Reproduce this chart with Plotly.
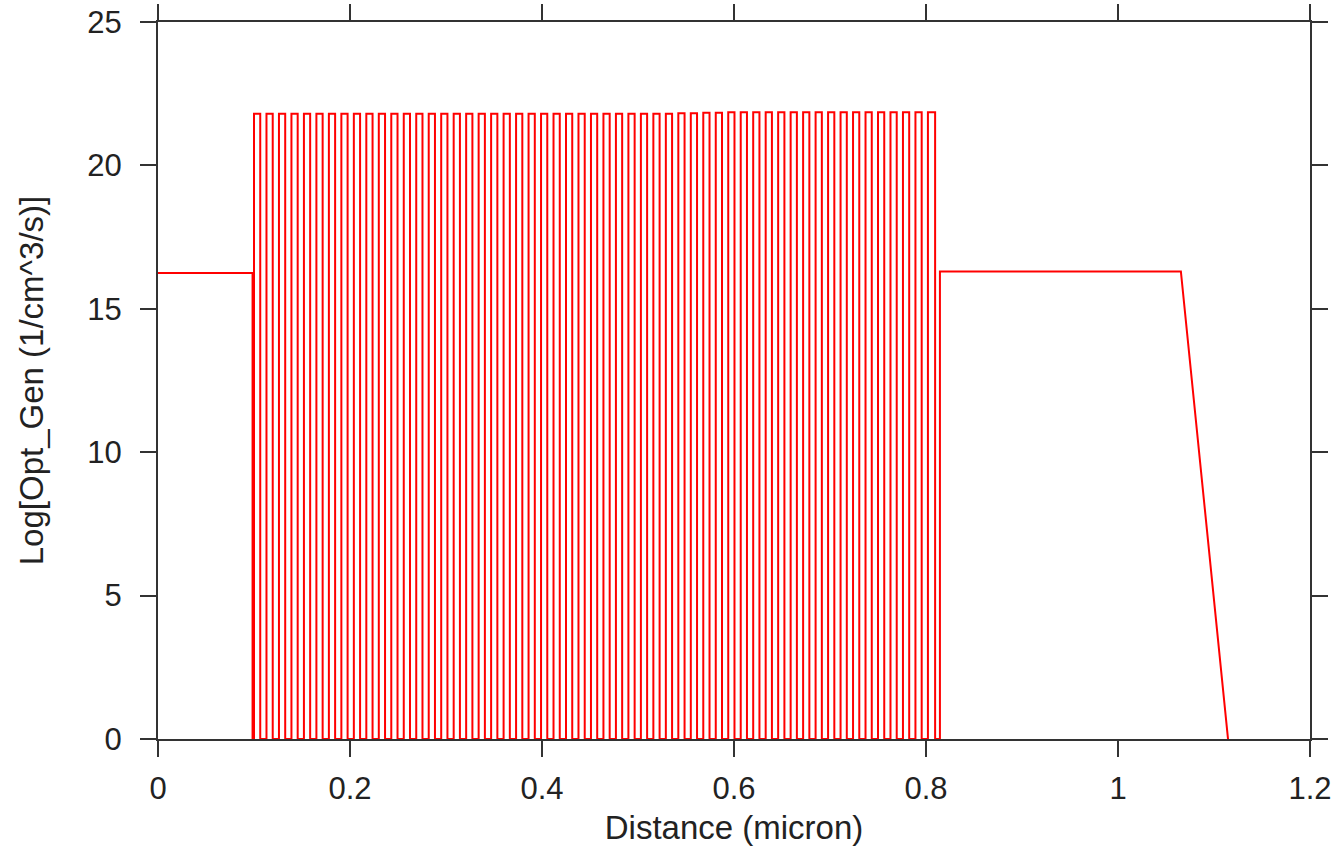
import plotly.graph_objects as go

# Layer (pulse) boundaries in micron
pulse_start = [0.100, 0.113, 0.126, 0.139, 0.152, 0.165, 0.178, 0.191, 0.204, 0.217,
               0.230, 0.243, 0.256, 0.269, 0.282, 0.295, 0.308, 0.321, 0.334, 0.347,
               0.360, 0.373, 0.386, 0.399, 0.412, 0.425, 0.438, 0.451, 0.464, 0.477,
               0.490, 0.503, 0.516, 0.529, 0.542, 0.555, 0.568, 0.581, 0.594, 0.607,
               0.620, 0.633, 0.646, 0.659, 0.672, 0.685, 0.698, 0.711, 0.724, 0.737,
               0.750, 0.763, 0.776, 0.789, 0.802]
pulse_end = [0.1065, 0.1195, 0.1325, 0.1455, 0.1585, 0.1715, 0.1845, 0.1975, 0.2105, 0.2235,
             0.2365, 0.2495, 0.2625, 0.2755, 0.2885, 0.3015, 0.3145, 0.3275, 0.3405, 0.3535,
             0.3665, 0.3795, 0.3925, 0.4055, 0.4185, 0.4315, 0.4445, 0.4575, 0.4705, 0.4835,
             0.4965, 0.5095, 0.5225, 0.5355, 0.5485, 0.5615, 0.5745, 0.5875, 0.6005, 0.6135,
             0.6265, 0.6395, 0.6525, 0.6655, 0.6785, 0.6915, 0.7045, 0.7175, 0.7305, 0.7435,
             0.7565, 0.7695, 0.7825, 0.7955, 0.8095]
pulse_peak = [21.80, 21.80, 21.80, 21.80, 21.80, 21.80, 21.80, 21.80, 21.80, 21.80,
              21.80, 21.80, 21.80, 21.80, 21.80, 21.80, 21.80, 21.80, 21.80, 21.80,
              21.80, 21.80, 21.80, 21.80, 21.80, 21.80, 21.80, 21.80, 21.80, 21.80,
              21.80, 21.80, 21.80, 21.80, 21.82, 21.82, 21.84, 21.84, 21.85, 21.85,
              21.85, 21.85, 21.85, 21.85, 21.85, 21.85, 21.85, 21.85, 21.85, 21.85,
              21.85, 21.85, 21.85, 21.85, 21.85]

# Segments before and after the periodic stack
pre_x = [0.0, 0.0985, 0.0985]
pre_y = [16.25, 16.25, 0.0]
post_x = [0.8145, 0.8145, 1.0655, 1.1146]
post_y = [0.0, 16.3, 16.3, 0.0]

x_ticks = [0, 0.2, 0.4, 0.6, 0.8, 1, 1.2]
x_tick_text = ["0", "0.2", "0.4", "0.6", "0.8", "1", "1.2"]
y_ticks = [0, 5, 10, 15, 20, 25]

xs = list(pre_x)
ys = list(pre_y)
for s, e, p in zip(pulse_start, pulse_end, pulse_peak):
    xs += [s, s, e, e]
    ys += [0.0, p, p, 0.0]
xs += post_x
ys += post_y

fig = go.Figure()
fig.add_trace(go.Scatter(x=xs, y=ys, mode="lines",
                         line=dict(color="#ff0000", width=2),
                         showlegend=False, hoverinfo="skip"))

font_fam = "Liberation Sans, Arial, sans-serif"
axis_common = dict(showline=True, linecolor="#333333", linewidth=2,
                   mirror="allticks", ticks="outside", ticklen=16, tickwidth=2,
                   tickcolor="#333333", showgrid=False, zeroline=False,
                   tickfont=dict(family=font_fam, size=31, color="#222222"))

fig.update_xaxes(range=[0, 1.2], tickvals=x_ticks, ticktext=x_tick_text,
                 title=dict(text="Distance (micron)", standoff=11,
                            font=dict(family=font_fam, size=33, color="#222222")),
                 ticklabelstandoff=5, automargin=False, **axis_common)
fig.update_yaxes(range=[0, 25], tickvals=y_ticks,
                 title=dict(text="Log[Opt_Gen (1/cm^3/s)]", standoff=34,
                            font=dict(family=font_fam, size=33, color="#222222")),
                 ticklabelstandoff=12, automargin=False, **axis_common)

fig.update_layout(width=1344, height=855,
                  margin=dict(l=158, r=34, t=22, b=116),
                  plot_bgcolor="white", paper_bgcolor="white")

fig.write_html("out.html")
